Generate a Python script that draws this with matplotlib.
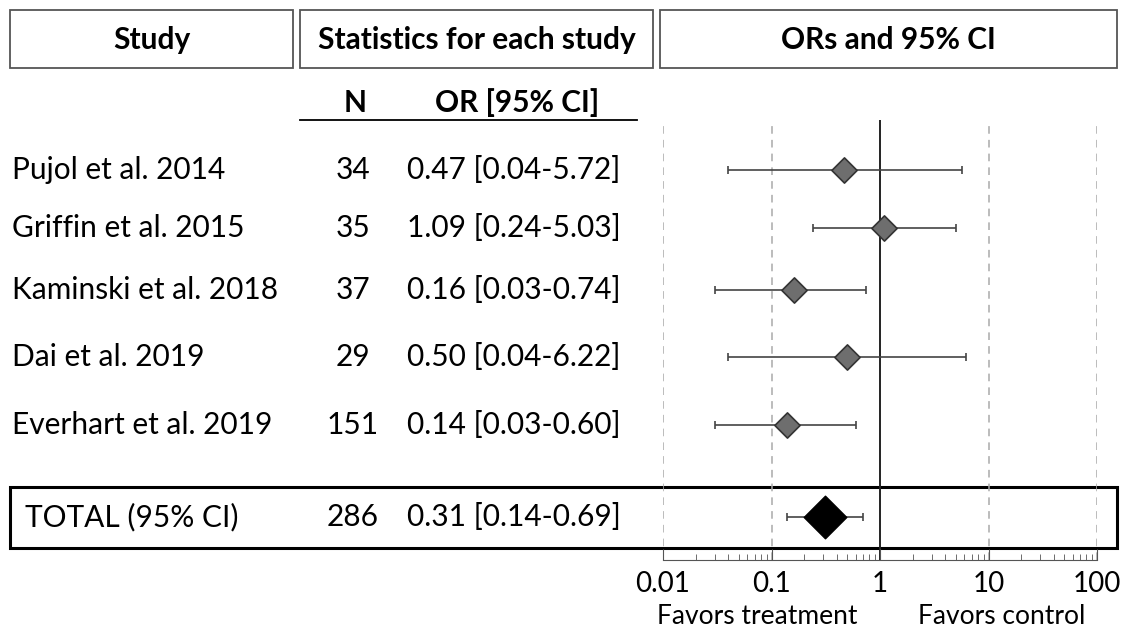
import numpy as np
import matplotlib.pyplot as plt
from matplotlib.patches import Rectangle
from matplotlib.lines import Line2D

plt.rcParams['font.family'] = ['Lato', 'DejaVu Sans']

studies = ['Pujol et al. 2014', 'Griffin et al. 2015', 'Kaminski et al. 2018',
           'Dai et al. 2019', 'Everhart et al. 2019']
n = [34, 35, 37, 29, 151]
odds = [0.47, 1.09, 0.16, 0.50, 0.14]
lower = [0.04, 0.24, 0.03, 0.04, 0.03]
upper = [5.72, 5.03, 0.74, 6.22, 0.60]
total_n = 286
total_or = 0.31
total_lo = 0.14
total_hi = 0.69
ticks = [0.01, 0.1, 1, 10, 100]
tick_labels = ['0.01', '0.1', '1', '10', '100']

W, H = 1121, 633
row_y = [170, 228, 290, 357, 425]
total_y = 517
fs = 21.5

fig = plt.figure(figsize=(W / 100, H / 100), dpi=100)
bg = fig.add_axes([0, 0, 1, 1])
bg.set_xlim(0, W)
bg.set_ylim(H, 0)
bg.axis('off')

# forest axes, same pixel y mapping
x0, x1, y_top, y_bot = 663, 1097, 120, 560
ax = fig.add_axes([x0 / W, 1 - y_bot / H, (x1 - x0) / W, (y_bot - y_top) / H])
ax.set_xscale('log')
ax.set_xlim(0.01, 100)
ax.set_ylim(y_bot, y_top)
ax.patch.set_alpha(0)
for s in ['top', 'right', 'left']:
    ax.spines[s].set_visible(False)
ax.spines['bottom'].set_color('#555555')
ax.set_yticks([])
ax.set_xticks(ticks)
ax.set_xticklabels(tick_labels, fontsize=20)
ax.tick_params(axis='x', which='major', direction='in', length=8, color='#555555', pad=8)
ax.tick_params(axis='x', which='minor', direction='in', length=4, color='#555555')

for t in ticks:
    if t == 1:
        ax.axvline(t, color='#222222', lw=1.4, zorder=1)
    else:
        ax.axvline(t, color='#aaaaaa', lw=1.1, ls=(0, (5, 4)), zorder=1)

ax.errorbar(odds, row_y, xerr=[np.array(odds) - np.array(lower), np.array(upper) - np.array(odds)],
            fmt='none', ecolor='#444444', elinewidth=1.2, capsize=3, capthick=1.2, zorder=2)
ax.scatter(odds, row_y, marker='D', s=165, color='#6e6e6e', edgecolors='#333333',
           linewidths=1.2, zorder=3)
ax.errorbar([total_or], [total_y], xerr=[[total_or - total_lo], [total_hi - total_or]],
            fmt='none', ecolor='#444444', elinewidth=1.2, capsize=3, capthick=1.2, zorder=2)
ax.scatter([total_or], [total_y], marker='D', s=470, color='black', zorder=3)

# header boxes
headers = [('Study', 10, 293), ('Statistics for each study', 300, 653), ('ORs and 95% CI', 660, 1117)]
for label, a, b in headers:
    bg.add_patch(Rectangle((a, 10), b - a, 58, fill=False, ec='#555555', lw=1.3))
    bg.text((a + b) / 2, 40, label, ha='center', va='center', fontsize=21.5, fontweight='bold')

bg.text(355, 103, 'N', ha='center', va='center', fontsize=21.5, fontweight='bold')
bg.text(517, 103, 'OR [95% CI]', ha='center', va='center', fontsize=21.5, fontweight='bold')
bg.add_line(Line2D([300, 637], [120, 120], color='black', lw=1.3))

for i, y in enumerate(row_y):
    bg.text(12, y, studies[i], ha='left', va='center', fontsize=fs)
    bg.text(353, y, str(n[i]), ha='center', va='center', fontsize=fs)
    bg.text(407, y, f'{odds[i]:.2f} [{lower[i]:.2f}-{upper[i]:.2f}]',
            ha='left', va='center', fontsize=fs)

bg.add_patch(Rectangle((10, 487), 1107, 61, fill=False, ec='black', lw=2.2))
bg.text(25, total_y, 'TOTAL (95% CI)', ha='left', va='center', fontsize=fs)
bg.text(353, total_y, str(total_n), ha='center', va='center', fontsize=fs)
bg.text(407, total_y, f'{total_or:.2f} [{total_lo:.2f}-{total_hi:.2f}]',
        ha='left', va='center', fontsize=fs)

bg.text(757, 617, 'Favors treatment', ha='center', va='center', fontsize=19)
bg.text(1002, 617, 'Favors control', ha='center', va='center', fontsize=19)

fig.savefig('out.png', dpi=100)
